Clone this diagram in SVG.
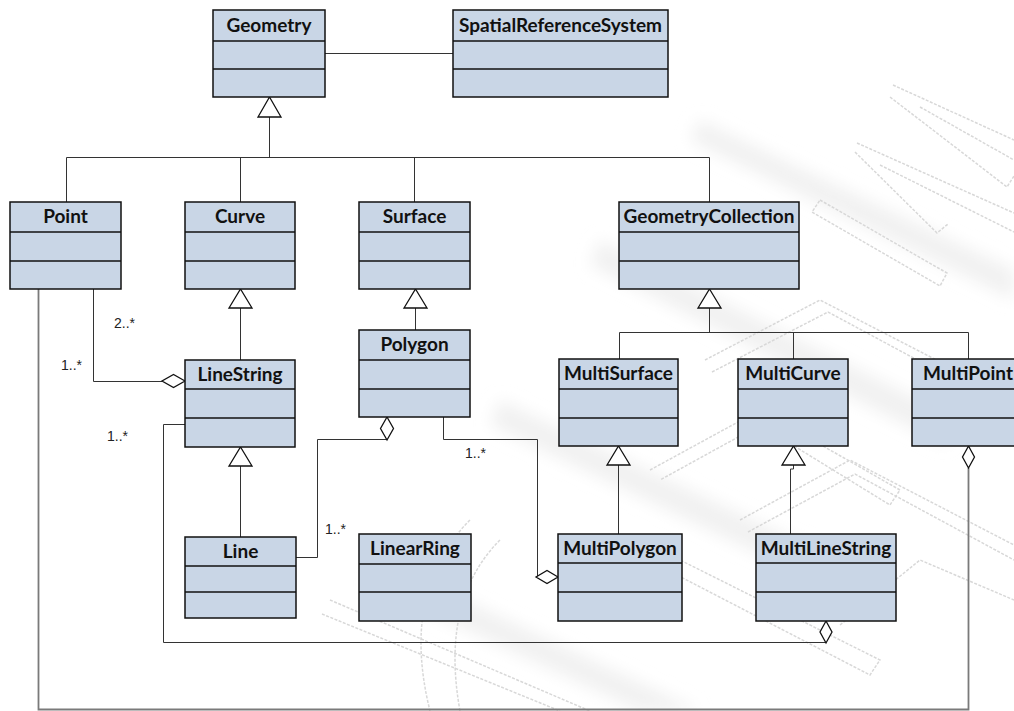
<svg xmlns="http://www.w3.org/2000/svg" width="1014" height="711" viewBox="0 0 1014 711">
  <defs>
    <style>
      .box rect { fill: #c9d6e6; stroke: #111; stroke-width: 1.5; }
      .box line { stroke: #111; stroke-width: 1.5; }
      .box text { font-family: Lato, "Open Sans", sans-serif; font-weight: 700; font-size: 19px; fill: #111; text-anchor: middle; }
      .c { fill: none; stroke: #333; stroke-width: 1; }
      .cg { fill: none; stroke: #7a7a7a; stroke-width: 1.8; }
      .head { fill: #fff; stroke: #111; stroke-width: 1.3; }
      .m { font-family: "Liberation Sans", Arial, sans-serif; font-size: 14px; fill: #222; }
      .wm { fill: none; stroke: #d8d8d8; stroke-width: 1.5; stroke-dasharray: 3 1.5; }
      .wmshade { fill: #f1f1f1; }
    </style>
    <filter id="soft" x="-20%" y="-20%" width="140%" height="140%">
      <feGaussianBlur stdDeviation="8"/>
    </filter>
  </defs>

  <rect width="1014" height="711" fill="#fff"/>

  <!-- faint background emblem -->
  <g id="emblem">
    <g filter="url(#soft)">
      <polygon class="wmshade" points="700,120 1014,270 1014,300 690,140"/>
      <polygon class="wmshade" points="600,240 960,420 945,445 590,265"/>
      <polygon class="wmshade" points="500,400 880,580 865,605 490,425"/>
      <polygon class="wmshade" points="380,560 700,711 640,711 370,585"/>
    </g>
    <path class="wm" d="M893,85 L1014,140 M890,97 L1007,187 L1014,176 M920,107 L1014,160"/>
    <path class="wm" d="M857,143 L1014,213 M855,152 L937,233 L948,224 M880,165 L1014,232"/>
    <path class="wm" d="M820,200 L947,273 L940,286 L812,212 Z"/>
    <path class="wm" d="M705,360 L820,300 L1014,400 M712,372 L828,312 L1014,412"/>
    <path class="wm" d="M650,470 L760,410 L900,490 L890,505 L760,425 L660,480"/>
    <path class="wm" d="M740,520 L850,460 L1014,545 M748,532 L855,474 L1014,560"/>
    <path class="wm" d="M600,610 L640,540 L880,660 L870,675 L648,560 L612,620"/>
    <path class="wm" d="M840,625 L920,560 L1014,600"/>
    <path class="wm" d="M470,520 Q400,590 430,711 M500,540 Q440,600 460,711"/>
    <path class="wm" d="M330,600 L590,711 M322,614 L560,711"/>
  </g>

  <!-- connectors -->
  <g id="connectors">
    <!-- Geometry to SpatialReferenceSystem -->
    <line class="c" x1="325" y1="53.5" x2="453" y2="53.5"/>

    <!-- generalization tree under Geometry -->
    <path class="c" d="M269.5,117 V157.5 M66.5,202 V157.5 H709.5 V202 M240.5,157.5 V202 M414.5,157.5 V202"/>
    <polygon class="head" points="269.5,97 281,117 258,117"/>

    <!-- Curve to LineString -->
    <path class="c" d="M240.5,308 V360"/>
    <polygon class="head" points="240.5,289 252,308 229,308"/>

    <!-- Surface to Polygon -->
    <path class="c" d="M415.5,308 V330"/>
    <polygon class="head" points="415.5,289 427,308 404,308"/>

    <!-- GeometryCollection tree -->
    <path class="c" d="M709.5,308 V332.5" stroke-width="2"/>
    <path class="c" d="M619.5,359 V332.5 H968.5 V359 M793.5,332.5 V359"/>
    <polygon class="head" points="709.5,289 721,308 698,308"/>

    <!-- LineString to Line -->
    <path class="c" d="M240.5,466 V537"/>
    <polygon class="head" points="240.5,447 252,466 229,466"/>

    <!-- MultiSurface to MultiPolygon -->
    <path class="c" d="M618.5,465 V534"/>
    <polygon class="head" points="618.5,446 630,465 607,465"/>

    <!-- MultiCurve to MultiLineString -->
    <path class="c" d="M793.5,465 V469 H790.5 V534"/>
    <polygon class="head" points="793.5,446 805,465 782,465"/>

    <!-- Point aggregated by LineString -->
    <path class="c" d="M93.5,289 V381.5 H162"/>
    <polygon class="head" points="185,381 173.5,374.5 162,381 173.5,387.5"/>

    <!-- LineString aggregated by MultiLineString -->
    <path class="c" d="M185,424.5 H163.5 V642.5 H826" stroke="#444"/>
    <polygon class="head" points="826,621 832,632 826,643 820,632"/>

    <!-- Line aggregated by Polygon -->
    <path class="c" d="M387,440 V439.5 H317.5 V557.5 H296"/>
    <polygon class="head" points="387,417 393.5,428.5 387,440 380.5,428.5"/>

    <!-- Polygon aggregated by MultiPolygon -->
    <path class="c" d="M443.5,417 V439.5 H537.5 V577"/>
    <polygon class="head" points="558,577 547,570.5 536,577 547,583.5"/>

    <!-- Point aggregated by MultiPoint -->
    <path class="cg" d="M968.5,468 V709.5 H38.5 V289"/>
    <polygon class="head" points="968.5,446 974.5,457 968.5,468 962.5,457"/>

    <!-- multiplicities -->
    <text class="m" x="114" y="328">2..*</text>
    <text class="m" x="61" y="370">1..*</text>
    <text class="m" x="107" y="441">1..*</text>
    <text class="m" x="325" y="534">1..*</text>
    <text class="m" x="465" y="458">1..*</text>
  </g>

  <!-- classes -->
  <g id="geometry" class="box">
    <rect x="213" y="10" width="112" height="87"/>
    <line x1="213" y1="41" x2="325" y2="41"/>
    <line x1="213" y1="69" x2="325" y2="69"/>
    <text x="269" y="32">Geometry</text>
  </g>
  <g id="spatial-reference-system" class="box">
    <rect x="453" y="10" width="215" height="87"/>
    <line x1="453" y1="41" x2="668" y2="41"/>
    <line x1="453" y1="69" x2="668" y2="69"/>
    <text x="560.5" y="32">SpatialReferenceSystem</text>
  </g>
  <g id="point" class="box">
    <rect x="10" y="202" width="111" height="87"/>
    <line x1="10" y1="232" x2="121" y2="232"/>
    <line x1="10" y1="261" x2="121" y2="261"/>
    <text x="65.5" y="223">Point</text>
  </g>
  <g id="curve" class="box">
    <rect x="185" y="202" width="110" height="87"/>
    <line x1="185" y1="232" x2="295" y2="232"/>
    <line x1="185" y1="261" x2="295" y2="261"/>
    <text x="240" y="223">Curve</text>
  </g>
  <g id="surface" class="box">
    <rect x="359" y="202" width="111" height="87"/>
    <line x1="359" y1="232" x2="470" y2="232"/>
    <line x1="359" y1="261" x2="470" y2="261"/>
    <text x="414.5" y="223">Surface</text>
  </g>
  <g id="geometry-collection" class="box">
    <rect x="619" y="202" width="180" height="87"/>
    <line x1="619" y1="232" x2="799" y2="232"/>
    <line x1="619" y1="261" x2="799" y2="261"/>
    <text x="709" y="223">GeometryCollection</text>
  </g>
  <g id="linestring" class="box">
    <rect x="185" y="360" width="110" height="87"/>
    <line x1="185" y1="389" x2="295" y2="389"/>
    <line x1="185" y1="418" x2="295" y2="418"/>
    <text x="240" y="381">LineString</text>
  </g>
  <g id="polygon" class="box">
    <rect x="359" y="330" width="111" height="87"/>
    <line x1="359" y1="360" x2="470" y2="360"/>
    <line x1="359" y1="389" x2="470" y2="389"/>
    <text x="414.5" y="351">Polygon</text>
  </g>
  <g id="multisurface" class="box">
    <rect x="559" y="359" width="119" height="87"/>
    <line x1="559" y1="389" x2="678" y2="389"/>
    <line x1="559" y1="418" x2="678" y2="418"/>
    <text x="618.5" y="380">MultiSurface</text>
  </g>
  <g id="multicurve" class="box">
    <rect x="738" y="359" width="110" height="87"/>
    <line x1="738" y1="389" x2="848" y2="389"/>
    <line x1="738" y1="418" x2="848" y2="418"/>
    <text x="793" y="380">MultiCurve</text>
  </g>
  <g id="multipoint" class="box">
    <rect x="912" y="359" width="112" height="87"/>
    <line x1="912" y1="389" x2="1024" y2="389"/>
    <line x1="912" y1="418" x2="1024" y2="418"/>
    <text x="968" y="380">MultiPoint</text>
  </g>
  <g id="line" class="box">
    <rect x="185" y="537" width="111" height="81"/>
    <line x1="185" y1="566" x2="296" y2="566"/>
    <line x1="185" y1="592" x2="296" y2="592"/>
    <text x="240.5" y="558">Line</text>
  </g>
  <g id="linear-ring" class="box">
    <rect x="359" y="534" width="112" height="87"/>
    <line x1="359" y1="564" x2="471" y2="564"/>
    <line x1="359" y1="592" x2="471" y2="592"/>
    <text x="415" y="555">LinearRing</text>
  </g>
  <g id="multipolygon" class="box">
    <rect x="558" y="534" width="124" height="87"/>
    <line x1="558" y1="563" x2="682" y2="563"/>
    <line x1="558" y1="592" x2="682" y2="592"/>
    <text x="620" y="555">MultiPolygon</text>
  </g>
  <g id="multilinestring" class="box">
    <rect x="756" y="534" width="140" height="87"/>
    <line x1="756" y1="563" x2="896" y2="563"/>
    <line x1="756" y1="592" x2="896" y2="592"/>
    <text x="826" y="555">MultiLineString</text>
  </g>
</svg>
